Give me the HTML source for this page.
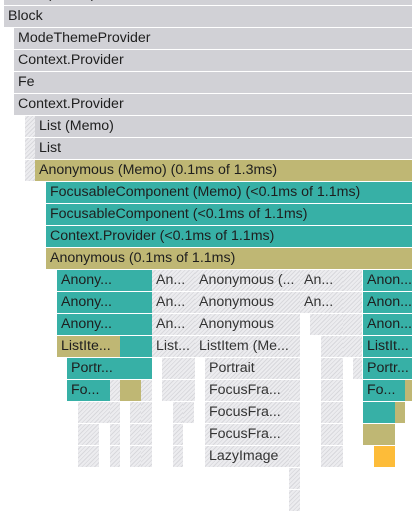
<!DOCTYPE html>
<html><head><meta charset="utf-8">
<style>
html,body{margin:0;padding:0;background:#fff;width:414px;height:521px;overflow:hidden;}
#fg{position:relative;width:414px;height:521px;font-family:"Liberation Sans",sans-serif;font-size:14.2px;color:#1e1e1e;}
.bar{position:absolute;height:21px;line-height:21px;box-sizing:border-box;padding-left:4px;white-space:nowrap;overflow:hidden;cursor:pointer;}
.g{background:#d1d1d6;}
.t{background:#37b0a6;}
.k{background:#bfb774;}
.o{background:#fdbc39;}
.h{background:repeating-linear-gradient(135deg,#ececef 0 2px,#d8d8dc 2px 3px);color:#333;}
</style></head><body>
<div id="fg"></div>
<script>
// row index, start x, end x, kind, label
const rows=[-1,0,1,2,3,4,5,5,6,6,7,7,8,9,10,11];
const bars=[
[-1,4,411,'g','Block (Memo)'],
[0,4,411,'g','Block'],
[1,14,411,'g','ModeThemeProvider'],
[2,14,411,'g','Context.Provider'],
[3,14,411,'g','Fe'],
[4,14,411,'g','Context.Provider'],
[5,25,34,'h',''],[5,35,411,'g','List (Memo)'],
[6,25,34,'h',''],[6,35,411,'g','List'],
[7,25,34,'h',''],[7,35,411,'k','Anonymous (Memo) (0.1ms of 1.3ms)'],
[8,46,411,'t','FocusableComponent (Memo) (<0.1ms of 1.1ms)'],
[9,46,411,'t','FocusableComponent (<0.1ms of 1.1ms)'],
[10,46,411,'t','Context.Provider (<0.1ms of 1.1ms)'],
[11,46,411,'k','Anonymous (0.1ms of 1.1ms)'],
[12,57,119,'t','Anony...'],[12,120,151,'t',''],[12,152,194,'h','An...'],[12,195,299,'h','Anonymous (...'],[12,300,342,'h','An...'],[12,343,361,'h',''],[12,363,411,'t','Anon...'],
[13,57,119,'t','Anony...'],[13,120,151,'t',''],[13,152,194,'h','An...'],[13,195,299,'h','Anonymous'],[13,300,342,'h','An...'],[13,343,361,'h',''],[13,363,411,'t','Anon...'],
[14,57,119,'t','Anony...'],[14,120,151,'t',''],[14,152,194,'h','An...'],[14,195,299,'h','Anonymous'],[14,310,342,'h',''],[14,343,361,'h',''],[14,363,411,'t','Anon...'],
[15,57,119,'k','ListIte...'],[15,120,151,'t',''],[15,152,194,'h','List...'],[15,195,299,'h','ListItem (Me...'],[15,321,342,'h',''],[15,343,361,'h',''],[15,363,411,'t','ListIt...'],
[16,67,119,'t','Portr...'],[16,120,151,'t',''],[16,162,194,'h',''],[16,205,299,'h','Portrait'],[16,321,342,'h',''],[16,353,361,'h',''],[16,363,411,'t','Portr...'],
[17,67,109,'t','Fo...'],[17,110,119,'h',''],[17,120,140,'k',''],[17,141,151,'h',''],[17,162,194,'h',''],[17,205,288,'h','FocusFra...'],[17,289,299,'h',''],[17,321,342,'h',''],[17,363,404,'t','Fo...'],[17,405,411,'k',''],
[18,78,98,'h',''],[18,99,109,'h',''],[18,110,119,'h',''],[18,130,140,'h',''],[18,141,151,'h',''],[18,173,182,'h',''],[18,183,193,'h',''],[18,205,288,'h','FocusFra...'],[18,289,299,'h',''],[18,321,342,'h',''],[18,363,394,'t',''],[18,395,404,'k',''],
[19,78,98,'h',''],[19,110,119,'h',''],[19,130,140,'h',''],[19,141,151,'h',''],[19,173,182,'h',''],[19,205,288,'h','FocusFra...'],[19,289,299,'h',''],[19,321,342,'h',''],[19,363,394,'k',''],
[20,78,98,'h',''],[20,110,119,'h',''],[20,130,140,'h',''],[20,141,151,'h',''],[20,173,182,'h',''],[20,205,288,'h','LazyImage'],[20,289,299,'h',''],[20,321,342,'h',''],[20,374,394,'o',''],
[21,289,299,'h',''],
[22,289,299,'h','']
];
const rowY=r=>6+r*22;
const fg=document.getElementById('fg');
bars.forEach(b=>{
  const d=document.createElement('div');
  d.className='bar '+b[3];
  d.style.left=b[1]+'px';
  d.style.top=rowY(b[0])+'px';
  d.style.width=(b[2]-b[1]+1)+'px';
  if(b[2]-b[1]<20)d.style.padding='0';
  d.textContent=b[4];
  
  
  fg.appendChild(d);
});
</script>
</body></html>
